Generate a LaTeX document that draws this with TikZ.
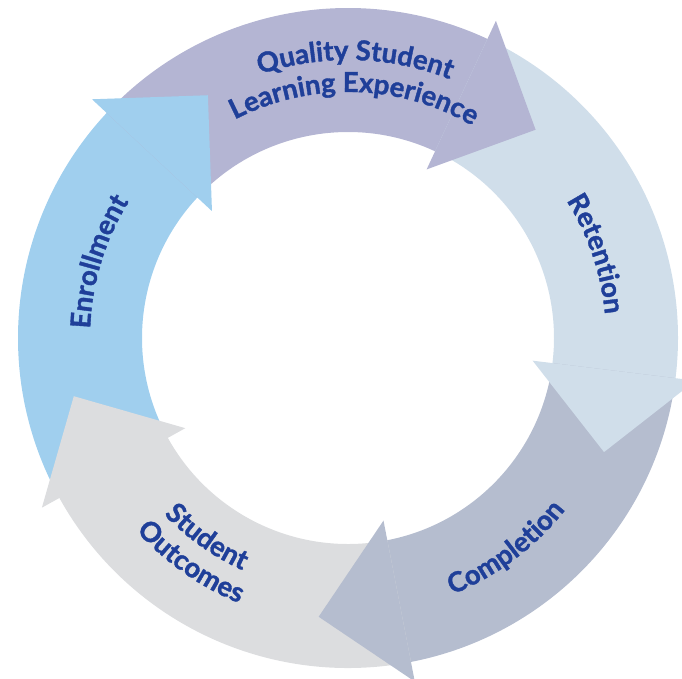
\documentclass[tikz,border=0pt]{standalone}
\usepackage{fontspec}
\setmainfont{Lato}[BoldFeatures={FakeBold=1.3}]
\usetikzlibrary{decorations.text}
\definecolor{cEnr}{HTML}{A0CFEE}
\definecolor{cQual}{HTML}{B4B5D3}
\definecolor{cRet}{HTML}{D0DEEA}
\definecolor{cComp}{HTML}{B5BDCF}
\definecolor{cOut}{HTML}{DCDDDF}
\definecolor{txt}{HTML}{1F3F99}
\newcommand\cyclabel{\fontsize{27.5}{32}\selectfont\bfseries\color{txt}}
\begin{document}
\begin{tikzpicture}[x=1pt,y=1pt,
  cwlabel/.style={decorate, decoration={text along path, text align=center, text={|\cyclabel|#1}}},
  ]
\useasboundingbox (-348,-341) rectangle (334,338);
\clip (-348,-341) rectangle (334,338);
% arrow bodies (annular sectors)
\foreach \b/\c in {137/cEnr, 65/cQual, -7/cRet, -79/cComp, -151/cOut} {
  \pgfmathsetmacro\sa{\b+72}
  \pgfmathsetmacro\ea{\b-1.5}
  \fill[\c] (\sa:330) arc[start angle=\sa, end angle=\ea, radius=330]
     -- (\ea:206) arc[start angle=\ea, end angle=\sa, radius=206] -- cycle;
}
% arrow heads
\foreach \b/\c in {137/cEnr, 65/cQual, -7/cRet, -79/cComp, -151/cOut} {
  \pgfmathsetmacro\ta{\b-17.01}
  \fill[\c] (\b:350) -- (\ta:280.3) -- (\b:186) -- cycle;
}
% labels (clockwise paths: letter tops outward)
\path[cwlabel={Quality Student}] (148.5:278) arc[start angle=148.5, end angle=28.5, radius=278];
\path[cwlabel={Learning Experience}] (148.5:246) arc[start angle=148.5, end angle=28.5, radius=246];
\path[cwlabel={Enrollment}] (223:258) arc[start angle=223, end angle=103, radius=258];
\path[cwlabel={Retention}] (78.7:258) arc[start angle=78.7, end angle=-41.3, radius=258];
% labels (counter-clockwise paths: letter tops inward)
\path[cwlabel={Completion}] (-113.1:277) arc[start angle=-113.1, end angle=6.9, radius=277];
\path[cwlabel={Student}] (174.7:255) arc[start angle=174.7, end angle=294.7, radius=255];
\path[cwlabel={Outcomes}] (175:286.5) arc[start angle=175, end angle=295, radius=286.5];
\end{tikzpicture}
\end{document}
